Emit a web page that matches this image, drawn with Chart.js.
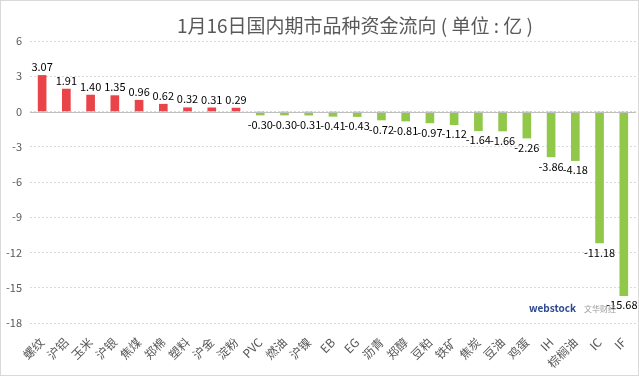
<!DOCTYPE html>
<html>
<head>
<meta charset="utf-8">
<script src="https://cdn.jsdelivr.net/npm/chart.js@4.4.1/dist/chart.umd.min.js"></script>
<style>
    html, body { margin: 0; padding: 0; background: #fff; }
    #wrap { position: relative; width: 639px; height: 376px; box-sizing: border-box; border: 1px solid #d9d9d9; }
    canvas { display: block; }
</style>
</head>
<body>
<div id="wrap"><canvas id="chart" width="637" height="374"></canvas></div>
<script>
const categories = ['螺纹','沪铝','玉米','沪银','焦煤','郑棉','塑料','沪金','淀粉','PVC','燃油','沪镍','EB','EG','沥青','郑醇','豆粕','铁矿','焦炭','豆油','鸡蛋','IH','棕榈油','IC','IF']
const flows = [3.07, 1.91, 1.40, 1.35, 0.96, 0.62, 0.32, 0.31, 0.29, -0.30, -0.30, -0.31, -0.41, -0.43, -0.72, -0.81, -0.97, -1.12, -1.64, -1.66, -2.26, -3.86, -4.18, -11.18, -15.68]
const yTicks = [6, 3, 0, -3, -6, -9, -12, -15, -18]
const titleText = '1月16日国内期市品种资金流向 ( 单位 : 亿 )'

const FONT = '"Noto Sans CJK SC", "Noto Sans", sans-serif'

// labels + title + zero line, drawn on the canvas
const extras = {
    id: 'extras',
    afterDatasetsDraw(chart) {
        const ctx = chart.ctx
        const y = chart.scales.y
        const area = chart.chartArea

        // zero line
        ctx.save()
        ctx.strokeStyle = '#bfbfbf'
        ctx.lineWidth = 1
        ctx.beginPath()
        ctx.moveTo(area.left, Math.round(y.getPixelForValue(0)) + 0.5)
        ctx.lineTo(area.right, Math.round(y.getPixelForValue(0)) + 0.5)
        ctx.stroke()

        // value labels
        ctx.font = '11px ' + FONT
        ctx.fillStyle = '#000'
        ctx.textAlign = 'center'
        chart.getDatasetMeta(0).data.forEach((bar, i) => {
            const v = flows[i]
            if (v >= 0) {
                ctx.textBaseline = 'bottom'
                ctx.fillText(v.toFixed(2), bar.x, bar.y - 3)
            } else {
                ctx.textBaseline = 'top'
                ctx.fillText(v.toFixed(2), Math.min(bar.x, area.right - 14), bar.y + 4)
            }
        })

        // title
        ctx.font = '19px ' + FONT
        ctx.fillStyle = '#595959'
        ctx.textBaseline = 'middle'
        ctx.fillText(titleText, 354, 25)

        // watermark
        ctx.textAlign = 'left'
        ctx.font = 'bold 10px ' + FONT
        ctx.fillStyle = '#2b4a8c'
        ctx.fillText('webstock', 528, 307)
        ctx.font = '8px ' + FONT
        ctx.fillStyle = '#9a9a9a'
        ctx.fillText('文华财经', 583, 308)
        ctx.restore()
    }
}

new Chart(
    document.getElementById('chart'),
    {
        type: 'bar',
        data: {
            labels: categories,
            datasets: [
                {
                    data: flows,
                    backgroundColor: flows.map(v => v >= 0 ? '#e8444a' : '#92c84a'),
                    barThickness: 8
                }
            ]
        },
        options: {
            responsive: false,
            animation: false,
            layout: {
                padding: { top: 40, right: 1, bottom: 2, left: 0 }
            },
            plugins: {
                legend: { display: false },
                tooltip: { enabled: false }
            },
            scales: {
                x: {
                    grid: { display: false },
                    border: { display: false },
                    ticks: {
                        color: '#595959',
                        font: { size: 12, family: FONT },
                        minRotation: 45,
                        maxRotation: 45,
                        autoSkip: false,
                        padding: 4
                    },
                    afterFit(scale) { scale.height = 50 }
                },
                y: {
                    min: -18,
                    max: 6,
                    afterBuildTicks(scale) { scale.ticks = yTicks.map(v => ({ value: v })) },
                    grid: { color: '#d9d9d9', drawTicks: false },
                    border: { display: false, dash: [2, 2] },
                    ticks: {
                        color: '#595959',
                        font: { size: 11, family: FONT },
                        padding: 8
                    },
                    afterFit(scale) { scale.width = 29 }
                }
            }
        },
        plugins: [extras]
    }
)
</script>
</body>
</html>
